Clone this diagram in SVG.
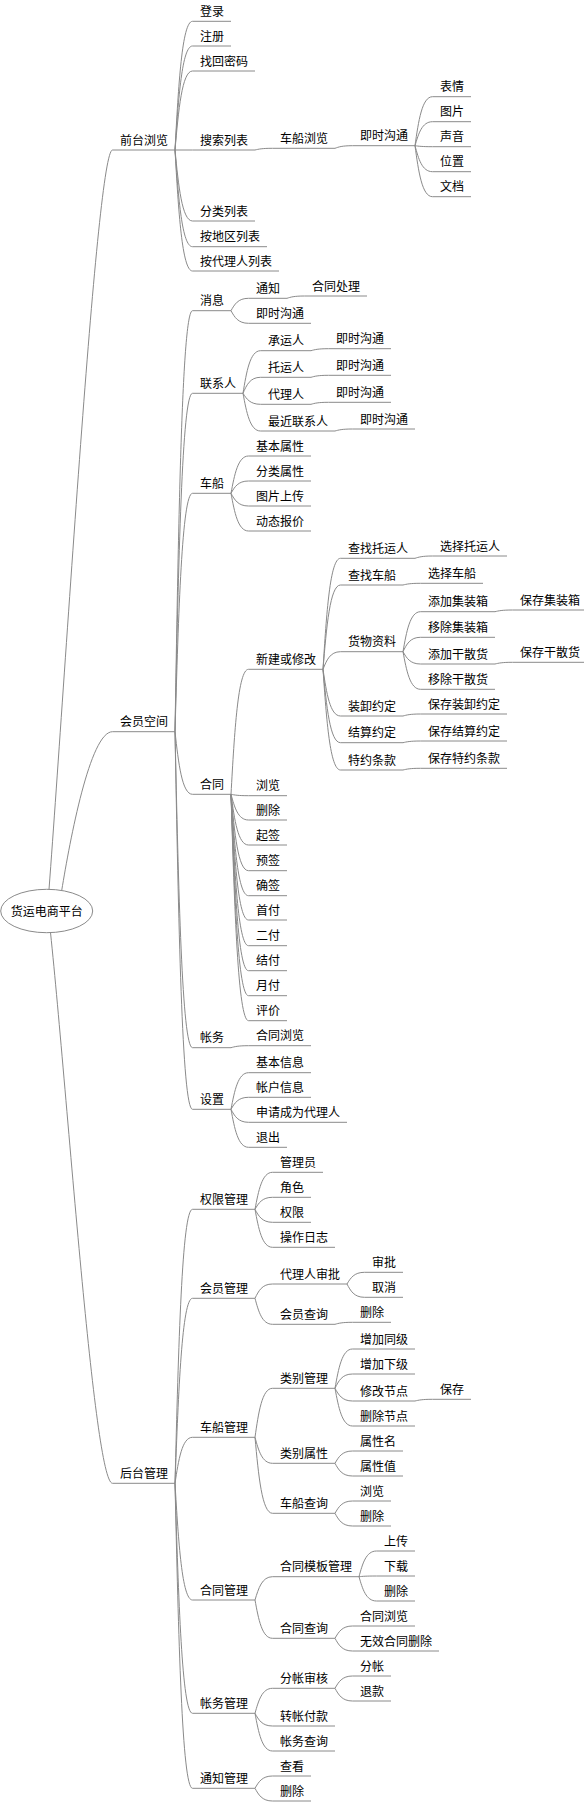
<svg xmlns="http://www.w3.org/2000/svg" width="584" height="1802" viewBox="0 0 584 1802">
<style>
.u{stroke:#8a8a8a;stroke-width:1;fill:none}
#connectors path{stroke:#8a8a8a;stroke-width:1;fill:none}
text{font-family:"Noto Sans CJK SC","Liberation Sans",sans-serif;font-size:12px;fill:#000}
</style>
<rect width="584" height="1802" fill="#fff"/>
<g id="connectors">
<path d="M49 889.5 C67 650 97 150 112.5 150"/>
<path d="M61.7 890.5 C70 840 90 731.7 112.5 731.7"/>
<path d="M50.5 932.5 C68 1100 94 1483.3 112.5 1483.3"/>
<path d="M175 150 C178.5 85.65 182 21.3 192.5 21.3"/>
<path d="M175 150 C178.5 98 182 46 192.5 46"/>
<path d="M175 150 C178.5 110.5 182 71 192.5 71"/>
<path d="M175 150 H192.5"/>
<path d="M175 150 C178.5 185.5 182 221 192.5 221"/>
<path d="M175 150 C178.5 198.35 182 246.7 192.5 246.7"/>
<path d="M175 150 C178.5 210.5 182 271 192.5 271"/>
<path d="M255 150 C258.5 149.15 262 148.3 272.5 148.3"/>
<path d="M335 148.3 C338.5 147 342 145.7 352.5 145.7"/>
<path d="M415 145.7 C418.5 121.2 422 96.7 432.5 96.7"/>
<path d="M415 145.7 C418.5 133.7 422 121.7 432.5 121.7"/>
<path d="M415 145.7 C418.5 146.2 422 146.7 432.5 146.7"/>
<path d="M415 145.7 C418.5 158.7 422 171.7 432.5 171.7"/>
<path d="M415 145.7 C418.5 171.2 422 196.7 432.5 196.7"/>
<path d="M175 731.7 C178.5 521.2 182 310.7 192.5 310.7"/>
<path d="M175 731.7 C178.5 562.5 182 393.3 192.5 393.3"/>
<path d="M175 731.7 C178.5 612.5 182 493.3 192.5 493.3"/>
<path d="M175 731.7 C178.5 763 182 794.3 192.5 794.3"/>
<path d="M175 731.7 C178.5 889.7 182 1047.7 192.5 1047.7"/>
<path d="M175 731.7 C178.5 920.5 182 1109.3 192.5 1109.3"/>
<path d="M231 310.7 C234.5 304.5 238 298.3 248.5 298.3"/>
<path d="M231 310.7 C234.5 317 238 323.3 248.5 323.3"/>
<path d="M287 298.3 C290.5 297.15 294 296 304.5 296"/>
<path d="M243 393.3 C246.5 372 250 350.7 260.5 350.7"/>
<path d="M243 393.3 C246.5 385.3 250 377.3 260.5 377.3"/>
<path d="M243 393.3 C246.5 398.8 250 404.3 260.5 404.3"/>
<path d="M243 393.3 C246.5 412.15 250 431 260.5 431"/>
<path d="M311 350.7 C314.5 349.7 318 348.7 328.5 348.7"/>
<path d="M311 377.3 C314.5 376.3 318 375.3 328.5 375.3"/>
<path d="M311 404.3 C314.5 403.3 318 402.3 328.5 402.3"/>
<path d="M335 431 C338.5 430 342 429 352.5 429"/>
<path d="M231 493.3 C234.5 474.65 238 456 248.5 456"/>
<path d="M231 493.3 C234.5 487.15 238 481 248.5 481"/>
<path d="M231 493.3 C234.5 499.65 238 506 248.5 506"/>
<path d="M231 493.3 C234.5 512.15 238 531 248.5 531"/>
<path d="M231 794.3 C234.5 731.8 238 669.3 248.5 669.3"/>
<path d="M231 794.3 C234.5 795 238 795.7 248.5 795.7"/>
<path d="M231 794.3 C234.5 807.15 238 820 248.5 820"/>
<path d="M231 794.3 C234.5 819.65 238 845 248.5 845"/>
<path d="M231 794.3 C234.5 832.5 238 870.7 248.5 870.7"/>
<path d="M231 794.3 C234.5 845 238 895.7 248.5 895.7"/>
<path d="M231 794.3 C234.5 857.15 238 920 248.5 920"/>
<path d="M231 794.3 C234.5 870 238 945.7 248.5 945.7"/>
<path d="M231 794.3 C234.5 882.5 238 970.7 248.5 970.7"/>
<path d="M231 794.3 C234.5 895 238 995.7 248.5 995.7"/>
<path d="M231 794.3 C234.5 907.5 238 1020.7 248.5 1020.7"/>
<path d="M323 669.3 C326.5 613.8 330 558.3 340.5 558.3"/>
<path d="M323 669.3 C326.5 627.15 330 585 340.5 585"/>
<path d="M323 669.3 C326.5 660.5 330 651.7 340.5 651.7"/>
<path d="M323 669.3 C326.5 692.65 330 716 340.5 716"/>
<path d="M323 669.3 C326.5 706 330 742.7 340.5 742.7"/>
<path d="M323 669.3 C326.5 719.65 330 770 340.5 770"/>
<path d="M415 558.3 C418.5 557.15 422 556 432.5 556"/>
<path d="M403 585 C406.5 584.15 410 583.3 420.5 583.3"/>
<path d="M403 651.7 C406.5 631.7 410 611.7 420.5 611.7"/>
<path d="M403 651.7 C406.5 644.5 410 637.3 420.5 637.3"/>
<path d="M403 651.7 C406.5 657.85 410 664 420.5 664"/>
<path d="M403 651.7 C406.5 670.5 410 689.3 420.5 689.3"/>
<path d="M495 611.7 C498.5 610.85 502 610 512.5 610"/>
<path d="M495 664 C498.5 663.15 502 662.3 512.5 662.3"/>
<path d="M403 716 C406.5 715 410 714 420.5 714"/>
<path d="M403 742.7 C406.5 741.85 410 741 420.5 741"/>
<path d="M403 770 C406.5 769.15 410 768.3 420.5 768.3"/>
<path d="M231 1047.7 C234.5 1046.7 238 1045.7 248.5 1045.7"/>
<path d="M231 1109.3 C234.5 1091 238 1072.7 248.5 1072.7"/>
<path d="M231 1109.3 C234.5 1103.3 238 1097.3 248.5 1097.3"/>
<path d="M231 1109.3 C234.5 1115.8 238 1122.3 248.5 1122.3"/>
<path d="M231 1109.3 C234.5 1128.3 238 1147.3 248.5 1147.3"/>
<path d="M175 1483.3 C178.5 1346.3 182 1209.3 192.5 1209.3"/>
<path d="M175 1483.3 C178.5 1390.8 182 1298.3 192.5 1298.3"/>
<path d="M175 1483.3 C178.5 1460.3 182 1437.3 192.5 1437.3"/>
<path d="M175 1483.3 C178.5 1541.65 182 1600 192.5 1600"/>
<path d="M175 1483.3 C178.5 1598.3 182 1713.3 192.5 1713.3"/>
<path d="M175 1483.3 C178.5 1635.8 182 1788.3 192.5 1788.3"/>
<path d="M255 1209.3 C258.5 1190.8 262 1172.3 272.5 1172.3"/>
<path d="M255 1209.3 C258.5 1203.3 262 1197.3 272.5 1197.3"/>
<path d="M255 1209.3 C258.5 1215.8 262 1222.3 272.5 1222.3"/>
<path d="M255 1209.3 C258.5 1228.3 262 1247.3 272.5 1247.3"/>
<path d="M255 1298.3 C258.5 1291.15 262 1284 272.5 1284"/>
<path d="M255 1298.3 C258.5 1311.3 262 1324.3 272.5 1324.3"/>
<path d="M347 1284 C350.5 1278.15 354 1272.3 364.5 1272.3"/>
<path d="M347 1284 C350.5 1290.65 354 1297.3 364.5 1297.3"/>
<path d="M335 1324.3 C338.5 1323.3 342 1322.3 352.5 1322.3"/>
<path d="M255 1437.3 C258.5 1412.8 262 1388.3 272.5 1388.3"/>
<path d="M255 1437.3 C258.5 1450.3 262 1463.3 272.5 1463.3"/>
<path d="M255 1437.3 C258.5 1475.3 262 1513.3 272.5 1513.3"/>
<path d="M335 1388.3 C338.5 1368.65 342 1349 352.5 1349"/>
<path d="M335 1388.3 C338.5 1381.15 342 1374 352.5 1374"/>
<path d="M335 1388.3 C338.5 1394.65 342 1401 352.5 1401"/>
<path d="M335 1388.3 C338.5 1407.15 342 1426 352.5 1426"/>
<path d="M415 1401 C418.5 1400.15 422 1399.3 432.5 1399.3"/>
<path d="M335 1463.3 C338.5 1457.15 342 1451 352.5 1451"/>
<path d="M335 1463.3 C338.5 1469.65 342 1476 352.5 1476"/>
<path d="M335 1513.3 C338.5 1507.15 342 1501 352.5 1501"/>
<path d="M335 1513.3 C338.5 1519.65 342 1526 352.5 1526"/>
<path d="M255 1600 C258.5 1588.35 262 1576.7 272.5 1576.7"/>
<path d="M255 1600 C258.5 1619.15 262 1638.3 272.5 1638.3"/>
<path d="M359 1576.7 C362.5 1563.85 366 1551 376.5 1551"/>
<path d="M359 1576.7 C362.5 1576.35 366 1576 376.5 1576"/>
<path d="M359 1576.7 C362.5 1588.85 366 1601 376.5 1601"/>
<path d="M335 1638.3 C338.5 1632.15 342 1626 352.5 1626"/>
<path d="M335 1638.3 C338.5 1644.65 342 1651 352.5 1651"/>
<path d="M255 1713.3 C258.5 1700.8 262 1688.3 272.5 1688.3"/>
<path d="M255 1713.3 C258.5 1719.65 262 1726 272.5 1726"/>
<path d="M255 1713.3 C258.5 1732.15 262 1751 272.5 1751"/>
<path d="M335 1688.3 C338.5 1682.15 342 1676 352.5 1676"/>
<path d="M335 1688.3 C338.5 1694.65 342 1701 352.5 1701"/>
<path d="M255 1788.3 C258.5 1782.15 262 1776 272.5 1776"/>
<path d="M255 1788.3 C258.5 1794.65 262 1801 272.5 1801"/>
</g>
<g id="root"><ellipse cx="46.7" cy="911" rx="46" ry="21.7" fill="#fff" stroke="#8a8a8a" stroke-width="1"/><text x="46.7" y="915.5" text-anchor="middle">货运电商平台</text></g>
<g id="n-qtll"><path class="u" d="M112.5 150 H175"/><text x="120" y="144.5">前台浏览</text></g>
<g id="n-dl"><path class="u" d="M192.5 21.3 H231"/><text x="200" y="15.8">登录</text></g>
<g id="n-zc"><path class="u" d="M192.5 46 H231"/><text x="200" y="40.5">注册</text></g>
<g id="n-zhmm"><path class="u" d="M192.5 71 H255"/><text x="200" y="65.5">找回密码</text></g>
<g id="n-sslb"><path class="u" d="M192.5 150 H255"/><text x="200" y="144.5">搜索列表</text></g>
<g id="n-ccll1"><path class="u" d="M272.5 148.3 H335"/><text x="280" y="142.8">车船浏览</text></g>
<g id="n-jsgt1"><path class="u" d="M352.5 145.7 H415"/><text x="360" y="140.2">即时沟通</text></g>
<g id="n-bq"><path class="u" d="M432.5 96.7 H471"/><text x="440" y="91.2">表情</text></g>
<g id="n-tp"><path class="u" d="M432.5 121.7 H471"/><text x="440" y="116.2">图片</text></g>
<g id="n-sy"><path class="u" d="M432.5 146.7 H471"/><text x="440" y="141.2">声音</text></g>
<g id="n-wz"><path class="u" d="M432.5 171.7 H471"/><text x="440" y="166.2">位置</text></g>
<g id="n-wd"><path class="u" d="M432.5 196.7 H471"/><text x="440" y="191.2">文档</text></g>
<g id="n-fllb"><path class="u" d="M192.5 221 H255"/><text x="200" y="215.5">分类列表</text></g>
<g id="n-adqlb"><path class="u" d="M192.5 246.7 H267"/><text x="200" y="241.2">按地区列表</text></g>
<g id="n-adlrlb"><path class="u" d="M192.5 271 H279"/><text x="200" y="265.5">按代理人列表</text></g>
<g id="n-hykj"><path class="u" d="M112.5 731.7 H175"/><text x="120" y="726.2">会员空间</text></g>
<g id="n-xx"><path class="u" d="M192.5 310.7 H231"/><text x="200" y="305.2">消息</text></g>
<g id="n-tz"><path class="u" d="M248.5 298.3 H287"/><text x="256" y="292.8">通知</text></g>
<g id="n-htcl"><path class="u" d="M304.5 296 H367"/><text x="312" y="290.5">合同处理</text></g>
<g id="n-jsgt2"><path class="u" d="M248.5 323.3 H311"/><text x="256" y="317.8">即时沟通</text></g>
<g id="n-lxr"><path class="u" d="M192.5 393.3 H243"/><text x="200" y="387.8">联系人</text></g>
<g id="n-cyr"><path class="u" d="M260.5 350.7 H311"/><text x="268" y="345.2">承运人</text></g>
<g id="n-jsgt3"><path class="u" d="M328.5 348.7 H391"/><text x="336" y="343.2">即时沟通</text></g>
<g id="n-tyr"><path class="u" d="M260.5 377.3 H311"/><text x="268" y="371.8">托运人</text></g>
<g id="n-jsgt4"><path class="u" d="M328.5 375.3 H391"/><text x="336" y="369.8">即时沟通</text></g>
<g id="n-dlr"><path class="u" d="M260.5 404.3 H311"/><text x="268" y="398.8">代理人</text></g>
<g id="n-jsgt5"><path class="u" d="M328.5 402.3 H391"/><text x="336" y="396.8">即时沟通</text></g>
<g id="n-zjlxr"><path class="u" d="M260.5 431 H335"/><text x="268" y="425.5">最近联系人</text></g>
<g id="n-jsgt6"><path class="u" d="M352.5 429 H415"/><text x="360" y="423.5">即时沟通</text></g>
<g id="n-cc"><path class="u" d="M192.5 493.3 H231"/><text x="200" y="487.8">车船</text></g>
<g id="n-jbsx"><path class="u" d="M248.5 456 H311"/><text x="256" y="450.5">基本属性</text></g>
<g id="n-flsx"><path class="u" d="M248.5 481 H311"/><text x="256" y="475.5">分类属性</text></g>
<g id="n-tpsc"><path class="u" d="M248.5 506 H311"/><text x="256" y="500.5">图片上传</text></g>
<g id="n-dtbj"><path class="u" d="M248.5 531 H311"/><text x="256" y="525.5">动态报价</text></g>
<g id="n-ht"><path class="u" d="M192.5 794.3 H231"/><text x="200" y="788.8">合同</text></g>
<g id="n-xjhxg"><path class="u" d="M248.5 669.3 H323"/><text x="256" y="663.8">新建或修改</text></g>
<g id="n-czyyr"><path class="u" d="M340.5 558.3 H415"/><text x="348" y="552.8">查找托运人</text></g>
<g id="n-xztyr"><path class="u" d="M432.5 556 H507"/><text x="440" y="550.5">选择托运人</text></g>
<g id="n-czcc"><path class="u" d="M340.5 585 H403"/><text x="348" y="579.5">查找车船</text></g>
<g id="n-xzcc"><path class="u" d="M420.5 583.3 H483"/><text x="428" y="577.8">选择车船</text></g>
<g id="n-hwzl"><path class="u" d="M340.5 651.7 H403"/><text x="348" y="646.2">货物资料</text></g>
<g id="n-tjjzx"><path class="u" d="M420.5 611.7 H495"/><text x="428" y="606.2">添加集装箱</text></g>
<g id="n-bcjzx"><path class="u" d="M512.5 610 H587"/><text x="520" y="604.5">保存集装箱</text></g>
<g id="n-ycjzx"><path class="u" d="M420.5 637.3 H495"/><text x="428" y="631.8">移除集装箱</text></g>
<g id="n-tjgsh"><path class="u" d="M420.5 664 H495"/><text x="428" y="658.5">添加干散货</text></g>
<g id="n-bcgsh"><path class="u" d="M512.5 662.3 H587"/><text x="520" y="656.8">保存干散货</text></g>
<g id="n-ycgsh"><path class="u" d="M420.5 689.3 H495"/><text x="428" y="683.8">移除干散货</text></g>
<g id="n-zxyd"><path class="u" d="M340.5 716 H403"/><text x="348" y="710.5">装卸约定</text></g>
<g id="n-bczxyd"><path class="u" d="M420.5 714 H507"/><text x="428" y="708.5">保存装卸约定</text></g>
<g id="n-jsyd"><path class="u" d="M340.5 742.7 H403"/><text x="348" y="737.2">结算约定</text></g>
<g id="n-bcjsyd"><path class="u" d="M420.5 741 H507"/><text x="428" y="735.5">保存结算约定</text></g>
<g id="n-tytk"><path class="u" d="M340.5 770 H403"/><text x="348" y="764.5">特约条款</text></g>
<g id="n-bctytk"><path class="u" d="M420.5 768.3 H507"/><text x="428" y="762.8">保存特约条款</text></g>
<g id="n-ll1"><path class="u" d="M248.5 795.7 H287"/><text x="256" y="790.2">浏览</text></g>
<g id="n-sc1"><path class="u" d="M248.5 820 H287"/><text x="256" y="814.5">删除</text></g>
<g id="n-qq"><path class="u" d="M248.5 845 H287"/><text x="256" y="839.5">起签</text></g>
<g id="n-yq"><path class="u" d="M248.5 870.7 H287"/><text x="256" y="865.2">预签</text></g>
<g id="n-qq2"><path class="u" d="M248.5 895.7 H287"/><text x="256" y="890.2">确签</text></g>
<g id="n-sf"><path class="u" d="M248.5 920 H287"/><text x="256" y="914.5">首付</text></g>
<g id="n-ef"><path class="u" d="M248.5 945.7 H287"/><text x="256" y="940.2">二付</text></g>
<g id="n-jf"><path class="u" d="M248.5 970.7 H287"/><text x="256" y="965.2">结付</text></g>
<g id="n-yf"><path class="u" d="M248.5 995.7 H287"/><text x="256" y="990.2">月付</text></g>
<g id="n-pj"><path class="u" d="M248.5 1020.7 H287"/><text x="256" y="1015.2">评价</text></g>
<g id="n-zw"><path class="u" d="M192.5 1047.7 H231"/><text x="200" y="1042.2">帐务</text></g>
<g id="n-htll1"><path class="u" d="M248.5 1045.7 H311"/><text x="256" y="1040.2">合同浏览</text></g>
<g id="n-sz"><path class="u" d="M192.5 1109.3 H231"/><text x="200" y="1103.8">设置</text></g>
<g id="n-jbxx"><path class="u" d="M248.5 1072.7 H311"/><text x="256" y="1067.2">基本信息</text></g>
<g id="n-zhxx"><path class="u" d="M248.5 1097.3 H311"/><text x="256" y="1091.8">帐户信息</text></g>
<g id="n-sqcwdlr"><path class="u" d="M248.5 1122.3 H347"/><text x="256" y="1116.8">申请成为代理人</text></g>
<g id="n-tc"><path class="u" d="M248.5 1147.3 H287"/><text x="256" y="1141.8">退出</text></g>
<g id="n-htgl"><path class="u" d="M112.5 1483.3 H175"/><text x="120" y="1477.8">后台管理</text></g>
<g id="n-qxgl"><path class="u" d="M192.5 1209.3 H255"/><text x="200" y="1203.8">权限管理</text></g>
<g id="n-gly"><path class="u" d="M272.5 1172.3 H323"/><text x="280" y="1166.8">管理员</text></g>
<g id="n-js"><path class="u" d="M272.5 1197.3 H311"/><text x="280" y="1191.8">角色</text></g>
<g id="n-qx"><path class="u" d="M272.5 1222.3 H311"/><text x="280" y="1216.8">权限</text></g>
<g id="n-czrz"><path class="u" d="M272.5 1247.3 H335"/><text x="280" y="1241.8">操作日志</text></g>
<g id="n-hygl"><path class="u" d="M192.5 1298.3 H255"/><text x="200" y="1292.8">会员管理</text></g>
<g id="n-dlrsp"><path class="u" d="M272.5 1284 H347"/><text x="280" y="1278.5">代理人审批</text></g>
<g id="n-sp"><path class="u" d="M364.5 1272.3 H403"/><text x="372" y="1266.8">审批</text></g>
<g id="n-qxc"><path class="u" d="M364.5 1297.3 H403"/><text x="372" y="1291.8">取消</text></g>
<g id="n-hycx"><path class="u" d="M272.5 1324.3 H335"/><text x="280" y="1318.8">会员查询</text></g>
<g id="n-sc2"><path class="u" d="M352.5 1322.3 H391"/><text x="360" y="1316.8">删除</text></g>
<g id="n-ccgl"><path class="u" d="M192.5 1437.3 H255"/><text x="200" y="1431.8">车船管理</text></g>
<g id="n-lbgl"><path class="u" d="M272.5 1388.3 H335"/><text x="280" y="1382.8">类别管理</text></g>
<g id="n-zjtj"><path class="u" d="M352.5 1349 H415"/><text x="360" y="1343.5">增加同级</text></g>
<g id="n-zjxj"><path class="u" d="M352.5 1374 H415"/><text x="360" y="1368.5">增加下级</text></g>
<g id="n-xgjd"><path class="u" d="M352.5 1401 H415"/><text x="360" y="1395.5">修改节点</text></g>
<g id="n-bc"><path class="u" d="M432.5 1399.3 H471"/><text x="440" y="1393.8">保存</text></g>
<g id="n-scjd"><path class="u" d="M352.5 1426 H415"/><text x="360" y="1420.5">删除节点</text></g>
<g id="n-lbsx"><path class="u" d="M272.5 1463.3 H335"/><text x="280" y="1457.8">类别属性</text></g>
<g id="n-sxm"><path class="u" d="M352.5 1451 H403"/><text x="360" y="1445.5">属性名</text></g>
<g id="n-sxz"><path class="u" d="M352.5 1476 H403"/><text x="360" y="1470.5">属性值</text></g>
<g id="n-cccx"><path class="u" d="M272.5 1513.3 H335"/><text x="280" y="1507.8">车船查询</text></g>
<g id="n-ll2"><path class="u" d="M352.5 1501 H391"/><text x="360" y="1495.5">浏览</text></g>
<g id="n-sc3"><path class="u" d="M352.5 1526 H391"/><text x="360" y="1520.5">删除</text></g>
<g id="n-htgl2"><path class="u" d="M192.5 1600 H255"/><text x="200" y="1594.5">合同管理</text></g>
<g id="n-htmbgl"><path class="u" d="M272.5 1576.7 H359"/><text x="280" y="1571.2">合同模板管理</text></g>
<g id="n-sc"><path class="u" d="M376.5 1551 H415"/><text x="384" y="1545.5">上传</text></g>
<g id="n-xz"><path class="u" d="M376.5 1576 H415"/><text x="384" y="1570.5">下载</text></g>
<g id="n-sc4"><path class="u" d="M376.5 1601 H415"/><text x="384" y="1595.5">删除</text></g>
<g id="n-htcx"><path class="u" d="M272.5 1638.3 H335"/><text x="280" y="1632.8">合同查询</text></g>
<g id="n-htll2"><path class="u" d="M352.5 1626 H415"/><text x="360" y="1620.5">合同浏览</text></g>
<g id="n-wxhtsc"><path class="u" d="M352.5 1651 H439"/><text x="360" y="1645.5">无效合同删除</text></g>
<g id="n-zwgl"><path class="u" d="M192.5 1713.3 H255"/><text x="200" y="1707.8">帐务管理</text></g>
<g id="n-fzsh"><path class="u" d="M272.5 1688.3 H335"/><text x="280" y="1682.8">分帐审核</text></g>
<g id="n-fz"><path class="u" d="M352.5 1676 H391"/><text x="360" y="1670.5">分帐</text></g>
<g id="n-tk"><path class="u" d="M352.5 1701 H391"/><text x="360" y="1695.5">退款</text></g>
<g id="n-zzfk"><path class="u" d="M272.5 1726 H335"/><text x="280" y="1720.5">转帐付款</text></g>
<g id="n-zwcx"><path class="u" d="M272.5 1751 H335"/><text x="280" y="1745.5">帐务查询</text></g>
<g id="n-tzgl"><path class="u" d="M192.5 1788.3 H255"/><text x="200" y="1782.8">通知管理</text></g>
<g id="n-ck"><path class="u" d="M272.5 1776 H311"/><text x="280" y="1770.5">查看</text></g>
<g id="n-sc5"><path class="u" d="M272.5 1801 H311"/><text x="280" y="1795.5">删除</text></g>
</svg>
